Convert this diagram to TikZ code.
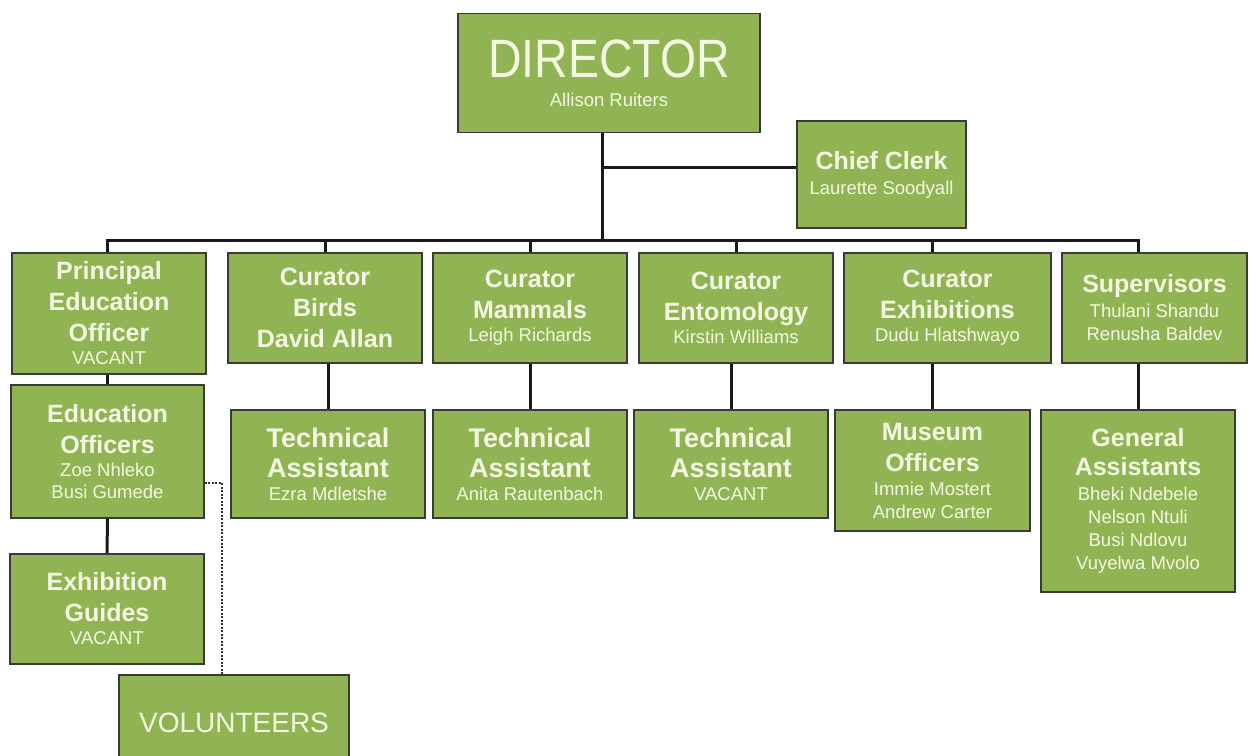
\documentclass[tikz,border=0pt]{standalone}
\usepackage{fontspec}
\setmainfont{Liberation Sans}
\usepackage{graphicx}
\definecolor{boxgreen}{HTML}{90B353}
\definecolor{boxline}{HTML}{3A3A3A}
\definecolor{txtc}{HTML}{F4F8E2}
\newcommand\nmf{\fontsize{18.5}{23}\selectfont\mdseries}
\newcommand\tbig{\fontsize{27}{31}\selectfont\bfseries}
\begin{document}
\begin{tikzpicture}[x=1pt,y=-1pt,
  box/.style={draw=boxline, line width=1.8pt, fill=boxgreen, text=txtc,
    inner sep=0pt, align=center, font=\fontsize{25}{31}\selectfont\bfseries},
  conn/.style={line width=3pt, draw=black!90},
  dotline/.style={line width=2.5pt, draw=black!80, dash pattern=on 2pt off 1.5pt}]
\useasboundingbox (0,0) rectangle (1257,755);
\fill[white] (0,0) rectangle (1257,755);
% top
\node[box, minimum width=302pt, minimum height=119pt] (dir) at (609,73)
  {\mdseries\fontsize{54}{56}\selectfont\scalebox{0.86}[1]{DIRECTOR}\\[-2pt]\nmf Allison Ruiters};
\node[box, minimum width=169pt, minimum height=107pt] (cc) at (881.5,174.5)
  {Chief Clerk\\[-6pt]\nmf Laurette Soodyall};
% level 2
\node[box, minimum width=194pt, minimum height=121pt] (peo) at (109,313.5)
  {Principal\\Education\\Officer\\[-8pt]\nmf VACANT};
\node[box, minimum width=194pt, minimum height=110pt] (cb) at (325,308)
  {Curator\\Birds\\David Allan};
\node[box, minimum width=194pt, minimum height=110pt] (cm) at (530,308)
  {Curator\\Mammals\\[-8pt]\nmf Leigh Richards};
\node[box, minimum width=194pt, minimum height=110pt] (ce) at (736,308)
  {Curator\\Entomology\\[-8pt]\nmf Kirstin Williams};
\node[box, minimum width=207pt, minimum height=110pt] (cx) at (947.5,308)
  {Curator\\Exhibitions\\[-8pt]\nmf Dudu Hlatshwayo};
\node[box, minimum width=185pt, minimum height=110pt] (sup) at (1154.5,308)
  {Supervisors\\[-6pt]\nmf Thulani Shandu\\[-8pt]\nmf Renusha Baldev};
% level 3
\node[box, minimum width=193pt, minimum height=133pt] (edu) at (107.5,451.5)
  {Education\\Officers\\[-8pt]\nmf Zoe Nhleko\\[-9pt]\nmf Busi Gumede};
\node[box, minimum width=194pt, minimum height=108pt] (tb) at (328,464)
  {\tbig Technical\\[-1pt]\tbig Assistant\\[-8pt]\nmf Ezra Mdletshe};
\node[box, minimum width=194pt, minimum height=108pt] (tm) at (530,464)
  {\tbig Technical\\[-1pt]\tbig Assistant\\[-8pt]\nmf Anita Rautenbach};
\node[box, minimum width=194pt, minimum height=108pt] (te) at (731,464)
  {\tbig Technical\\[-1pt]\tbig Assistant\\[-8pt]\nmf VACANT};
\node[box, minimum width=195pt, minimum height=121pt] (mo) at (932.5,470.5)
  {Museum\\Officers\\[-7pt]\nmf Immie Mostert\\[-8pt]\nmf Andrew Carter};
\node[box, minimum width=194pt, minimum height=182pt] (ga) at (1138,501)
  {General\\[-2pt]Assistants\\[-6pt]\nmf Bheki Ndebele\\[-8pt]\nmf Nelson Ntuli\\[-8pt]\nmf Busi Ndlovu\\[-8pt]\nmf Vuyelwa Mvolo};
\node[box, minimum width=194pt, minimum height=110pt] (eg) at (107,609)
  {Exhibition\\Guides\\[-8pt]\nmf VACANT};
\node[box, minimum width=230pt, minimum height=96pt] (vol) at (234,723)
  {\mdseries\fontsize{28}{31}\selectfont VOLUNTEERS};
% connectors
\coordinate (dj) at (602,240);
\coordinate (ccj) at (602,167);
\draw[conn] (dir.south -| dj) -- (dj);
\draw[conn] (ccj) -- (ccj -| cc.west);
\draw[conn, line cap=rect] (edu.north |- dj) -- (ga.north |- dj);
\draw[conn] (edu.north |- dj) -- (edu.north |- peo.north);
\draw[conn] (cb.north |- dj) -- (cb.north);
\draw[conn] (cm.north |- dj) -- (cm.north);
\draw[conn] (ce.north |- dj) -- (ce.north);
\draw[conn] (mo.north |- dj) -- (mo.north |- cx.north);
\draw[conn] (ga.north |- dj) -- (ga.north |- sup.north);
\draw[conn] (edu.north |- peo.south) -- (edu.north);
\draw[conn] (edu.south) -- (eg.north);
\draw[conn] (tb.north |- cb.south) -- (tb.north);
\draw[conn] (tm.north |- cm.south) -- (tm.north);
\draw[conn] (te.north |- ce.south) -- (te.north);
\draw[conn] (mo.north |- cx.south) -- (mo.north);
\draw[conn] (ga.north |- sup.south) -- (ga.north);
\coordinate (dt) at (222,483);
\draw[dotline] (edu.east |- dt) -- (dt) -- (dt |- vol.north);
\end{tikzpicture}
\end{document}
